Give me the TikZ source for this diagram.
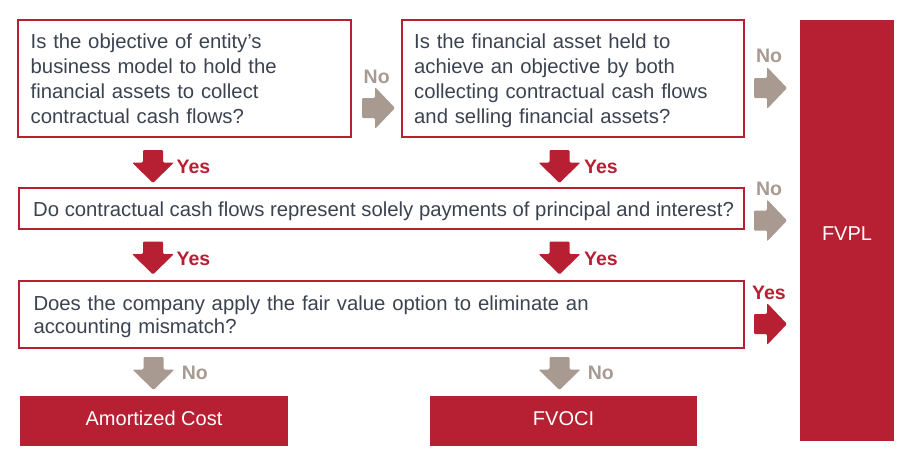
\documentclass[tikz,border=0pt]{standalone}
\usepackage{fontspec}
\setmainfont{Liberation Sans}
\definecolor{ired}{HTML}{B71F33}
\definecolor{igray}{HTML}{A89A91}
\definecolor{itext}{HTML}{3C4350}
\tikzset{
  qbox/.style={draw=ired, line width=2pt, fill=white, inner sep=0pt},
  obox/.style={fill=ired, inner sep=0pt, text=white, font=\fontsize{20}{24}\selectfont},
  qtext/.style={font=\fontsize{20.3}{25}\selectfont, text=itext, align=left, inner sep=0pt, anchor=base west},
  lbl/.style={font=\fontsize{19.5}{22}\selectfont\bfseries, inner sep=0pt},
  pics/darrow/.style={code={\fill[#1, rounded corners=1.2pt] (-10,0) -- (10,0) -- (10,12.5) -- (21,12.5) -- (0,33) -- (-21,12.5) -- (-10,12.5) -- cycle;}},
  pics/rarrow/.style={code={\fill[#1, rounded corners=1.2pt] (0,-10) -- (13,-10) -- (13,-21) -- (33,0) -- (13,21) -- (13,10) -- (0,10) -- cycle;}},
}
\begin{document}
\begin{tikzpicture}[x=1pt, y=-1pt]
\useasboundingbox (0,0) rectangle (907,464);
% question boxes
\node[qbox, minimum width=333pt, minimum height=117pt] (q1) at (184.5,78.5) {};
\node[qbox, minimum width=342.5pt, minimum height=117pt] (q2) at (572.75,78.5) {};
\node[qbox, minimum width=725pt, minimum height=41.5pt] (q3) at (381.5,208.25) {};
\node[qbox, minimum width=725pt, minimum height=67pt] (q4) at (381.5,314.5) {};
% outcome boxes
\node[obox, minimum width=268pt, minimum height=50pt, text height=14.5pt, text depth=5pt] (ac) at (154,421) {Amortized Cost};
\node[obox, minimum width=267pt, minimum height=50pt, text height=14.5pt, text depth=5pt] (fvoci) at (563.5,421) {FVOCI};
\node[obox, minimum width=94pt, minimum height=421pt, text height=19pt, text depth=0pt] (fvpl) at (847,230.5) {FVPL};
% texts
\node[qtext, text width=310pt] (t1) at (30.5,48.3) {Is the objective of entity’s\\business model to hold the\\financial assets to collect\\contractual cash flows?};
\node[qtext, text width=320pt] (t2) at (414,48.3) {Is the financial asset held to\\achieve an objective by both\\collecting contractual cash flows\\and selling financial assets?};
\node[qtext] (t3) at (33,216.7) {Do contractual cash flows represent solely payments of principal and interest?};
\node[qtext, text width=705pt, font=\fontsize{20.3}{23.4}\selectfont] (t4) at (33.3,310) {Does the company apply the fair value option to eliminate an\\accounting mismatch?};
% down arrows
\pic at (153,150) {darrow=ired};
\pic at (559.5,150) {darrow=ired};
\pic at (153,241.5) {darrow=ired};
\pic at (559.5,241.5) {darrow=ired};
\pic at (153.5,357) {darrow=igray};
\pic at (559.5,357) {darrow=igray};
% right arrows
\pic at (362,108) {rarrow=igray};
\pic at (754,88) {rarrow=igray};
\pic at (754,220.5) {rarrow=igray};
\pic at (754,324) {rarrow=ired};
% labels
\node[lbl, text=ired, anchor=base west] (y1) at (176.5,173.5) {Yes};
\node[lbl, text=ired, anchor=base west] (y2) at (584,173.5) {Yes};
\node[lbl, text=ired, anchor=base west] (y3) at (176.5,265) {Yes};
\node[lbl, text=ired, anchor=base west] (y4) at (584,265) {Yes};
\node[lbl, text=igray, anchor=base west] (n5) at (181.7,379) {No};
\node[lbl, text=igray, anchor=base west] (n6) at (587.7,379) {No};
\node[lbl, text=igray, anchor=base] (n1) at (376.7,83.3) {No};
\node[lbl, text=igray, anchor=base] (n2) at (769,62.7) {No};
\node[lbl, text=igray, anchor=base] (n3) at (769,195.3) {No};
\node[lbl, text=ired, anchor=base] (y5) at (769,299.3) {Yes};
\end{tikzpicture}
\end{document}
